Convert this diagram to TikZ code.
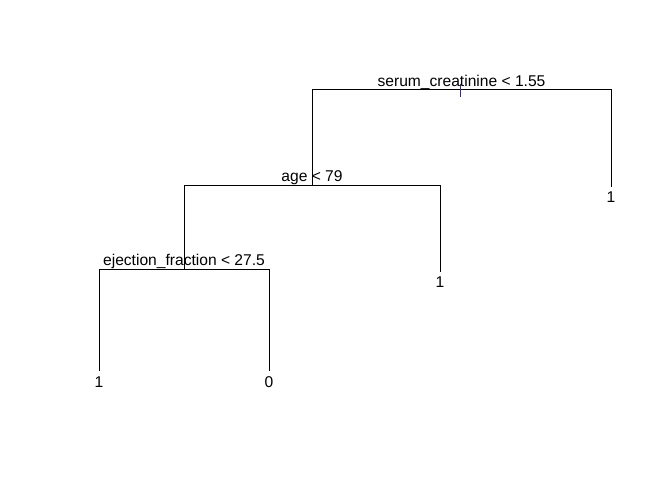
\documentclass[tikz,border=0pt]{standalone}
\usepackage{fontspec}
\setmainfont{Liberation Sans}
\definecolor{tickcol}{RGB}{60,40,120}
\begin{document}
\begin{tikzpicture}[x=1pt,y=-1pt,
  edge/.style={draw=black,line width=1pt,line cap=rect},
  splitlbl/.style={anchor=base,inner sep=0pt,font=\fontsize{15.6}{18}\selectfont},
  leaflbl/.style={anchor=base,inner sep=0pt,font=\fontsize{15.6}{18}\selectfont}]
\useasboundingbox[fill=white] (0,0) rectangle (672,480);
% split coordinates
\coordinate (r0) at (460,84);
\coordinate (r1) at (460,97);
\coordinate (rL) at (312,89);
\coordinate (rR) at (611,89);
\coordinate (aL) at (184,185);
\coordinate (aM) at (312,185);
\coordinate (aR) at (440,185);
\coordinate (eL) at (99,269);
\coordinate (eM) at (184,269);
\coordinate (eR) at (269,269);
% leaf ends
\coordinate (l1) at (611,186);
\coordinate (l2) at (440,271);
\coordinate (l3) at (99,370);
\coordinate (l4) at (269,370);
% edges
\draw[edge] (aM) -- (rL) -- (rR) -- (l1);
\draw[edge] (eM) -- (aL) -- (aR) -- (l2);
\draw[edge] (l3) -- (eL) -- (eR) -- (l4);
\draw[draw=tickcol,line width=1pt] (r0) -- (r1);
% split labels
\node[splitlbl] (s1) at (461.5,86.3) {serum\_creatinine < 1.55};
\node[splitlbl] (s2) at (312,181.6) {age < 79};
\node[splitlbl] (s3) at (184,265.5) {ejection\_fraction < 27.5};
% leaf labels
\node[leaflbl] (t1) at (611,202) {1};
\node[leaflbl] (t2) at (440,287) {1};
\node[leaflbl] (t3) at (99,387) {1};
\node[leaflbl] (t4) at (269,387) {0};
\end{tikzpicture}
\end{document}
